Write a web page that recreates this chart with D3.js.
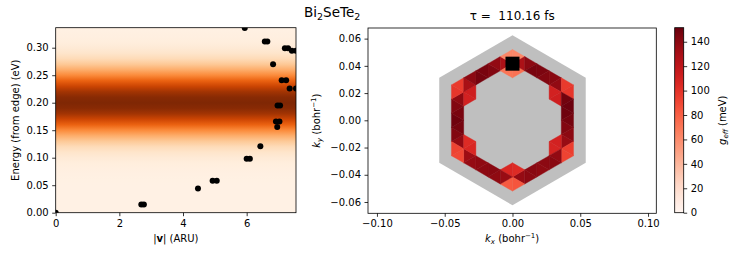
<!DOCTYPE html>
<html>
<head>
<meta charset="utf-8">
<script src="https://cdn.jsdelivr.net/npm/d3@7"></script>
<style>
body { margin: 0; background: #fff; }
text { font-family: "DejaVu Sans", sans-serif; }
</style>
</head>
<body>
<div id="chart"></div>
<script>
// ---- left panel data: |v| (ARU) vs energy of the k-points
var velocity = [0, 2.69, 2.77, 4.47, 4.93, 5.06, 6.0, 6.1, 6.43, 6.96, 6.92, 7.03, 6.97, 7.05,
                6.83, 7.1, 7.24, 7.35, 7.55, 7.2, 7.3, 7.42, 7.55, 6.57, 6.65, 5.94];
var energy   = [0, 0.015, 0.015, 0.044, 0.058, 0.058, 0.098, 0.098, 0.121, 0.156, 0.166, 0.166, 0.195, 0.195,
                0.270, 0.241, 0.241, 0.226, 0.226, 0.299, 0.299, 0.2945, 0.2945, 0.3115, 0.3115, 0.336];

// background density (0..1) read along the energy axis
var densityE = [0, 0.01, 0.02, 0.03, 0.04, 0.05, 0.06, 0.07, 0.08, 0.09, 0.10, 0.11, 0.12, 0.13, 0.14, 0.15, 0.16,
                0.17, 0.18, 0.19, 0.20, 0.21, 0.22, 0.23, 0.24, 0.25, 0.26, 0.27, 0.28, 0.29, 0.30, 0.31, 0.32, 0.33, 0.34];
var density  = [0, 0, 0, 0, 0, 0.002, 0.004, 0.008, 0.017, 0.03, 0.06, 0.10, 0.16, 0.25, 0.36, 0.49, 0.64,
                0.77, 0.89, 0.97, 1.0, 0.97, 0.89, 0.77, 0.64, 0.49, 0.36, 0.25, 0.16, 0.10, 0.06, 0.03, 0.017, 0.008, 0.004];

var xTicksL = [0, 2, 4, 6];
var yTicksL = [0, 0.05, 0.10, 0.15, 0.20, 0.25, 0.30];

// ---- right panel data: g_eff (meV) on the triangles of the ring, one list per side of the hexagon
var sectorNames  = ["left", "upper left", "upper right", "right", "lower right", "lower left"];
var bandG        = [[138, 143, 147, 149, 146, 143, 139],
                    [130, 140, 147, 146, 143, 138, 128],
                    [128, 140, 146, 145, 143, 141, 138],
                    [148, 150, 149, 147, 143, 140, 136],
                    [138, 141, 140, 139, 141, 140, 137],
                    [136, 139, 141, 140, 139, 137, 134]];
var outerCornerG = [[98, 96], [62, 62], [96, 98], [94, 92], [84, 82], [90, 92]];
var innerCornerG = [[110, 112], [70, 72], [110, 112], [110, 108], [104, 106], [106, 104]];
var markerK = [0, 0.0416];

var xTicksR = [-0.10, -0.05, 0, 0.05, 0.10];
var yTicksR = [-0.06, -0.04, -0.02, 0, 0.02, 0.04, 0.06];
var cbTicks = [0, 20, 40, 60, 80, 100, 120, 140];

var W = 747, H = 262;
var svg = d3.select("#chart").append("svg")
  .attr("width", W).attr("height", H);
var defs = svg.append("defs");

// ================= left panel =================
var xL = d3.scaleLinear().domain([0, 7.55]).range([55.7, 296]);
var yL = d3.scaleLinear().domain([0, 0.3364]).range([212.7, 27.7]);

var grad = defs.append("linearGradient")
  .attr("id", "dens")
  .attr("gradientUnits", "userSpaceOnUse")
  .attr("x1", 0).attr("x2", 0)
  .attr("y1", yL(0)).attr("y2", yL(0.34));
grad.selectAll("stop")
  .data(densityE)
  .enter().append("stop")
  .attr("offset", function(d) { return d / 0.34; })
  .attr("stop-color", function(d, i) { return d3.interpolateOranges(0.03 + 0.97 * density[i]); });

defs.append("clipPath").attr("id", "clipL")
  .append("rect")
  .attr("x", xL(0)).attr("y", yL(0.3364))
  .attr("width", xL(7.55) - xL(0)).attr("height", yL(0) - yL(0.3364));

svg.append("rect")
  .attr("x", xL(0)).attr("y", yL(0.3364))
  .attr("width", xL(7.55) - xL(0)).attr("height", yL(0) - yL(0.3364))
  .attr("fill", "url(#dens)");

svg.append("g").attr("clip-path", "url(#clipL)")
  .selectAll("circle")
  .data(velocity)
  .enter().append("circle")
  .attr("cx", function(d) { return xL(d); })
  .attr("cy", function(d, i) { return yL(energy[i]); })
  .attr("r", 3)
  .attr("fill", "#000");

function styleAxis(g) {
  g.select(".domain").remove();
  g.selectAll("line").attr("stroke", "#000").attr("stroke-width", 0.8);
  g.selectAll("text").attr("font-size", 10).attr("font-family", "DejaVu Sans").attr("fill", "#000");
}

svg.append("g")
  .attr("transform", "translate(0," + yL(0) + ")")
  .call(d3.axisBottom(xL).tickValues(xTicksL).tickSize(3.5).tickPadding(3.5).tickFormat(d3.format("d")))
  .call(styleAxis);
svg.append("g")
  .attr("transform", "translate(" + xL(0) + ",0)")
  .call(d3.axisLeft(yL).tickValues(yTicksL).tickSize(3.5).tickPadding(3.5).tickFormat(d3.format(".2f")))
  .call(styleAxis);

svg.append("rect")
  .attr("x", xL(0)).attr("y", yL(0.3364))
  .attr("width", xL(7.55) - xL(0)).attr("height", yL(0) - yL(0.3364))
  .attr("fill", "none").attr("stroke", "#000").attr("stroke-width", 0.8);

var xlabL = svg.append("text")
  .attr("x", (xL(0) + xL(7.55)) / 2).attr("y", 242)
  .attr("text-anchor", "middle").attr("font-size", 10);
xlabL.append("tspan").text("|");
xlabL.append("tspan").attr("font-weight", "bold").text("v");
xlabL.append("tspan").text("| (ARU)");

svg.append("text")
  .attr("transform", "translate(19," + (yL(0) + yL(0.3364)) / 2 + ") rotate(-90)")
  .attr("text-anchor", "middle").attr("font-size", 10)
  .text("Energy (from edge) (eV)");

// ================= right panel =================
var xR = d3.scaleLinear().domain([-0.1066, 0.1061]).range([368, 656.3]);
var yR = d3.scaleLinear().domain([-0.0683, 0.0678]).range([213.3, 28]);
var gMax = 151.5;
var colR = d3.scaleSequential(d3.interpolateReds).domain([0, gMax]);

// triangular k-grid: columns at i*h, half-levels at m*a/2
var a = 0.0104, h = a * Math.sqrt(3) / 2;

function triangle(i, m) {
  var colA = (((m - i) % 2) + 2) % 2 === 0 ? i : i + 1;
  var colB = colA === i ? i + 1 : i;
  return [[colA * h, m * a / 2], [colA * h, (m + 2) * a / 2], [colB * h, (m + 1) * a / 2]];
}
function rotate(p, k) {
  var t = -k * Math.PI / 3;
  return [p[0] * Math.cos(t) - p[1] * Math.sin(t), p[0] * Math.sin(t) + p[1] * Math.cos(t)];
}

// Brillouin zone
var bz = d3.range(6).map(function(j) {
  var ang = Math.PI / 2 + j * Math.PI / 3;
  return [xR(6 * a * Math.cos(ang)), yR(6 * a * Math.sin(ang))];
});
svg.append("polygon")
  .attr("points", bz.map(function(p) { return p.join(","); }).join(" "))
  .attr("fill", "#bfbfbf");

// collect ring cells
var cells = [];
sectorNames.forEach(function(name, k) {
  bandG[k].forEach(function(g, j) { cells.push({ k: k, i: -5, m: -4 + j, g: g }); });
  outerCornerG[k].forEach(function(g, j) { cells.push({ k: k, i: -5, m: 3 + j, g: g }); });
  innerCornerG[k].forEach(function(g, j) { cells.push({ k: k, i: -4, m: 2 + j, g: g }); });
});

svg.append("g").selectAll("polygon")
  .data(cells)
  .enter().append("polygon")
  .attr("points", function(d) {
    return triangle(d.i, d.m).map(function(p) {
      var q = rotate(p, d.k);
      return xR(q[0]) + "," + yR(q[1]);
    }).join(" ");
  })
  .attr("fill", function(d) { return colR(d.g); })
  .attr("stroke", function(d) { return colR(d.g); })
  .attr("stroke-width", 0.4);

svg.append("rect")
  .attr("x", xR(markerK[0]) - 7).attr("y", yR(markerK[1]) - 7)
  .attr("width", 14).attr("height", 14)
  .attr("fill", "#000");

svg.append("g")
  .attr("transform", "translate(0," + yR.range()[0] + ")")
  .call(d3.axisBottom(xR).tickValues(xTicksR).tickSize(3.5).tickPadding(3.5).tickFormat(d3.format(".2f")))
  .call(styleAxis);
svg.append("g")
  .attr("transform", "translate(" + xR.range()[0] + ",0)")
  .call(d3.axisLeft(yR).tickValues(yTicksR).tickSize(3.5).tickPadding(3.5).tickFormat(d3.format(".2f")))
  .call(styleAxis);

svg.append("rect")
  .attr("x", 368).attr("y", 28)
  .attr("width", 656.3 - 368).attr("height", 213.3 - 28)
  .attr("fill", "none").attr("stroke", "#000").attr("stroke-width", 0.8);

var xlabR = svg.append("text")
  .attr("x", (368 + 656.3) / 2).attr("y", 242)
  .attr("text-anchor", "middle").attr("font-size", 10);
xlabR.append("tspan").attr("font-style", "italic").text("k");
xlabR.append("tspan").attr("font-style", "italic").attr("font-size", 7).attr("dy", 2).text("x");
xlabR.append("tspan").attr("dy", -2).text(" (bohr");
xlabR.append("tspan").attr("font-size", 7).attr("dy", -4).text("\u22121");
xlabR.append("tspan").attr("dy", 4).text(")");

var ylabR = svg.append("text")
  .attr("transform", "translate(320," + (28 + 213.3) / 2 + ") rotate(-90)")
  .attr("text-anchor", "middle").attr("font-size", 10);
ylabR.append("tspan").attr("font-style", "italic").text("k");
ylabR.append("tspan").attr("font-style", "italic").attr("font-size", 7).attr("dy", 2).text("y");
ylabR.append("tspan").attr("dy", -2).text(" (bohr");
ylabR.append("tspan").attr("font-size", 7).attr("dy", -4).text("\u22121");
ylabR.append("tspan").attr("dy", 4).text(")");

svg.append("text")
  .attr("x", (368 + 656.3) / 2).attr("y", 19.5)
  .attr("text-anchor", "middle").attr("font-size", 12)
  .text("\u03c4 =\u00a0 110.16 fs");

// ================= colorbar =================
var yC = d3.scaleLinear().domain([0, gMax]).range([212.7, 27.7]);
var cgrad = defs.append("linearGradient")
  .attr("id", "cbar").attr("x1", 0).attr("x2", 0).attr("y1", 1).attr("y2", 0);
cgrad.selectAll("stop")
  .data(d3.range(0, 1.0001, 0.05))
  .enter().append("stop")
  .attr("offset", function(d) { return d; })
  .attr("stop-color", function(d) { return d3.interpolateReds(d); });

svg.append("rect")
  .attr("x", 674.7).attr("y", yC(gMax))
  .attr("width", 9).attr("height", yC(0) - yC(gMax))
  .attr("fill", "url(#cbar)")
  .attr("stroke", "#000").attr("stroke-width", 0.8);

svg.append("g")
  .attr("transform", "translate(683.7,0)")
  .call(d3.axisRight(yC).tickValues(cbTicks).tickSize(3.5).tickPadding(3.5))
  .call(styleAxis);

var cbl = svg.append("text")
  .attr("transform", "translate(725.5," + (yC(0) + yC(gMax)) / 2 + ") rotate(-90)")
  .attr("text-anchor", "middle").attr("font-size", 10);
cbl.append("tspan").attr("font-style", "italic").text("g");
cbl.append("tspan").attr("font-style", "italic").attr("font-size", 7).attr("dy", 2).text("eff");
cbl.append("tspan").attr("dy", -2).text(" (meV)");

// ================= figure title =================
var sup = svg.append("text")
  .attr("x", 304).attr("y", 17)
  .attr("font-size", 13.5);
sup.append("tspan").text("Bi");
sup.append("tspan").attr("font-size", 9.5).attr("dy", 3).text("2");
sup.append("tspan").attr("dy", -3).text("SeTe");
sup.append("tspan").attr("font-size", 9.5).attr("dy", 3).text("2");
</script>
</body>
</html>
